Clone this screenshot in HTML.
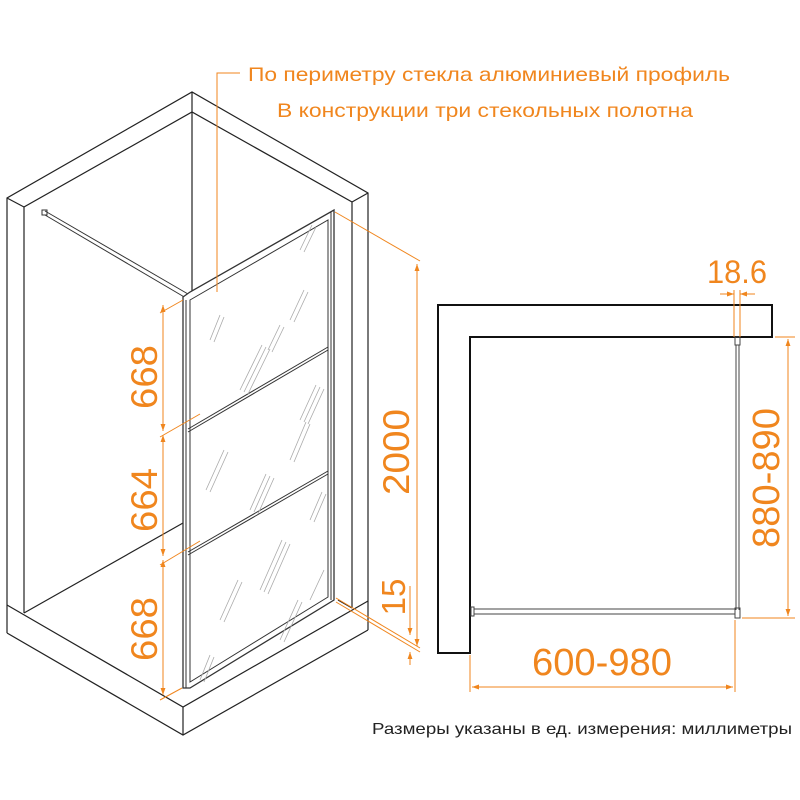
<!DOCTYPE html>
<html><head><meta charset="utf-8"><style>
html,body{margin:0;padding:0;background:#fff;}
svg{display:block;}
text{font-family:"Liberation Sans","DejaVu Sans",sans-serif;}
</style></head><body>
<svg width="800" height="800" viewBox="0 0 800 800" xmlns="http://www.w3.org/2000/svg">
<defs>
<marker id="a" viewBox="0 0 10 10" refX="10" refY="5" markerWidth="7" markerHeight="7" orient="auto-start-reverse"><path d="M0,1.5 L10,5 L0,8.5 z" fill="#f0861e"/></marker>
</defs>
<g fill="none" stroke="#222" stroke-width="1.2">
<polyline points="7,633 7,198 192,92 368,193 368,630"/>
<polyline points="24,613 24,207 192,112 352,202 352,608"/>
<line x1="7" y1="198" x2="24" y2="207"/>
<line x1="368" y1="193" x2="352" y2="202"/>
<line x1="192" y1="92" x2="192" y2="112"/>
<line x1="192" y1="112" x2="192" y2="297"/>
<polyline points="7,605 183,707 368,601"/>
<polyline points="7,633 183,735 368,630"/>
<line x1="183" y1="707" x2="183" y2="735"/>
<line x1="24" y1="613" x2="183" y2="523"/>
<line x1="352" y1="608" x2="338" y2="600"/>
</g>
<line x1="188" y1="518" x2="328" y2="597" stroke="#ccc" stroke-width="1"/>
<g stroke="#333" fill="none">
<line x1="45" y1="211" x2="188" y2="294" stroke-width="1"/>
<line x1="45" y1="215" x2="186" y2="298" stroke-width="1"/>
<rect x="42" y="210" width="5" height="5"/>
<polygon points="183,297 190,292 334,210 334,600 190,688 183,688" fill="#fff" stroke-width="1.3"/>
<polygon points="190,300 328,220 328,597 190,682" stroke-width="1"/>
<line x1="186" y1="300" x2="186" y2="688" stroke-width="1"/>
<line x1="331" y1="212" x2="331" y2="600" stroke-width="1"/>
<line x1="188" y1="429" x2="328" y2="347" stroke-width="1"/>
<line x1="188" y1="432" x2="328" y2="350" stroke-width="1"/>
<line x1="188" y1="552" x2="328" y2="471" stroke-width="1"/>
<line x1="188" y1="555" x2="328" y2="474" stroke-width="1"/>
</g>
<g stroke="#aaa" stroke-width="0.8">
<path d="M240,390 l22,-45 M244,392 l22,-45 M248,394 l22,-45 M268,350 l12,-25 M272,352 l12,-25 M290,320 l14,-30 M294,322 l14,-30 M210,340 l10,-25 M214,342 l10,-25 M300,420 l16,-35 M304,422 l16,-35 M308,424 l16,-35 M206,490 l18,-40 M210,492 l18,-40 M250,510 l16,-36 M254,512 l16,-36 M258,514 l16,-36 M290,460 l16,-38 M294,462 l16,-38 M310,520 l12,-28 M314,522 l12,-28 M220,620 l18,-40 M224,622 l18,-40 M260,590 l22,-50 M264,592 l22,-50 M268,594 l22,-50 M280,640 l18,-40 M284,642 l18,-40 M200,680 l10,-25 M204,682 l10,-25 M310,600 l14,-30 M300,250 l12,-25 M304,252 l12,-25"/>
</g>
<g stroke="#f0861e" stroke-width="1" fill="none">
<polyline points="240,73 217,73 217,292"/>
<line x1="163" y1="305" x2="163" y2="431" marker-start="url(#a)" marker-end="url(#a)"/>
<line x1="163" y1="435" x2="163" y2="556" marker-start="url(#a)" marker-end="url(#a)"/>
<line x1="163" y1="560" x2="163" y2="695" marker-start="url(#a)" marker-end="url(#a)"/>
<line x1="160" y1="313" x2="183" y2="300"/>
<line x1="160" y1="437" x2="200" y2="414"/>
<line x1="160" y1="565" x2="200" y2="541"/>
<line x1="160" y1="700" x2="182" y2="688"/>
<line x1="417" y1="264" x2="417" y2="646" marker-start="url(#a)" marker-end="url(#a)"/>
<line x1="335" y1="212" x2="420" y2="261"/>
<line x1="336" y1="598" x2="420" y2="648"/>
<line x1="336" y1="602" x2="420" y2="652"/>
<line x1="410" y1="586" x2="410" y2="635" marker-end="url(#a)"/>
<line x1="410" y1="665" x2="410" y2="652" marker-end="url(#a)"/>
</g>
<g fill="#f0861e" font-size="37">
<text transform="translate(157,377) rotate(-90)" text-anchor="middle" textLength="64" lengthAdjust="spacingAndGlyphs">668</text>
<text transform="translate(157,500) rotate(-90)" text-anchor="middle" textLength="64" lengthAdjust="spacingAndGlyphs">664</text>
<text transform="translate(157,629) rotate(-90)" text-anchor="middle" textLength="64" lengthAdjust="spacingAndGlyphs">668</text>
<text transform="translate(409,452) rotate(-90)" text-anchor="middle" textLength="86" lengthAdjust="spacingAndGlyphs">2000</text>
<text transform="translate(405,597) rotate(-90)" text-anchor="middle" font-size="33">15</text>
<text x="248" y="81" font-size="19.5" textLength="482" lengthAdjust="spacingAndGlyphs">По периметру стекла алюминиевый профиль</text>
<text x="277" y="117" font-size="19.5" textLength="416" lengthAdjust="spacingAndGlyphs">В конструкции три стекольных полотна</text>
</g>
<polygon points="438,305 772,305 772,337 470,337 470,653 438,653" fill="#fff" stroke="#111" stroke-width="2"/>
<g stroke="#444" fill="none" stroke-width="1">
<rect x="735" y="337" width="5" height="8"/>
<line x1="736" y1="345" x2="736" y2="610"/><line x1="739" y1="345" x2="739" y2="610"/>
<rect x="735" y="608" width="5" height="10"/>
<rect x="471" y="607" width="3" height="9"/>
<line x1="474" y1="609" x2="735" y2="609"/><line x1="474" y1="614" x2="735" y2="614"/>
</g>
<g stroke="#f0861e" stroke-width="1" fill="none">
<line x1="734" y1="290" x2="734" y2="337"/><line x1="740" y1="290" x2="740" y2="337"/>
<line x1="720" y1="294" x2="734" y2="294" marker-end="url(#a)"/>
<line x1="755" y1="294" x2="740" y2="294" marker-end="url(#a)"/>
<line x1="775" y1="337" x2="795" y2="337"/><line x1="742" y1="618" x2="795" y2="618"/>
<line x1="788" y1="339" x2="788" y2="616" marker-start="url(#a)" marker-end="url(#a)"/>
<line x1="470" y1="655" x2="470" y2="692"/><line x1="735" y1="620" x2="735" y2="692"/>
<line x1="472" y1="687" x2="733" y2="687" marker-start="url(#a)" marker-end="url(#a)"/>
</g>
<g fill="#f0861e" font-size="38">
<text x="737" y="283" text-anchor="middle" font-size="32" textLength="60" lengthAdjust="spacingAndGlyphs">18.6</text>
<text transform="translate(779,478) rotate(-90)" text-anchor="middle" textLength="140" lengthAdjust="spacingAndGlyphs">880-890</text>
<text x="602" y="675" text-anchor="middle" textLength="140" lengthAdjust="spacingAndGlyphs">600-980</text>
</g>
<text x="372" y="734" font-size="16" fill="#222" textLength="420" lengthAdjust="spacingAndGlyphs">Размеры указаны в ед. измерения: миллиметры</text>
</svg>
</body></html>
